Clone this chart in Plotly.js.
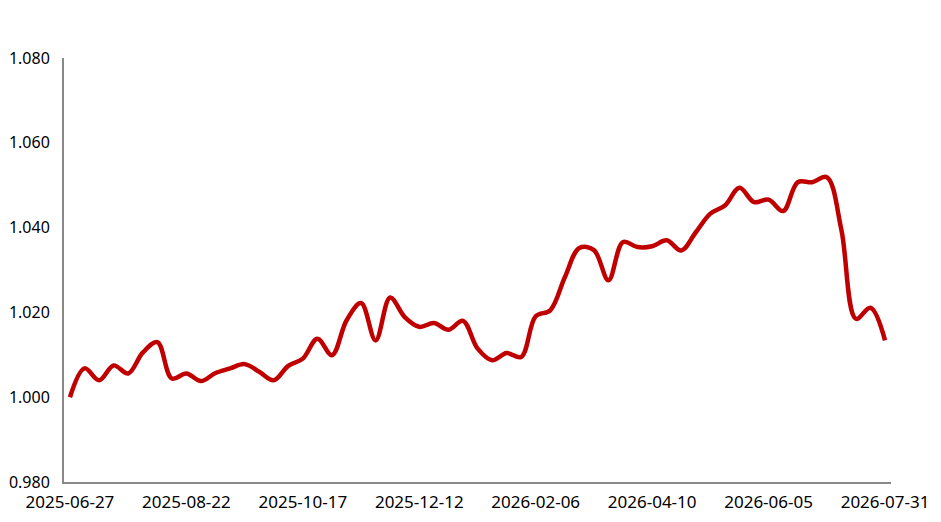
<!DOCTYPE html>
<html>
<head>
<meta charset="utf-8">
<script src="https://cdn.plot.ly/plotly-3.0.1.min.js"></script>
<style>
  html, body { margin: 0; padding: 0; background: #fff; }
  #chart { width: 941px; height: 522px; }
</style>
</head>
<body>
<div id="chart"></div>
<script>
// weekly dates (one trading week missing around the spring festival)
const dates = [
    '2025-06-27','2025-07-04','2025-07-11','2025-07-18','2025-07-25','2025-08-01','2025-08-08','2025-08-15',
    '2025-08-22','2025-08-29','2025-09-05','2025-09-12','2025-09-19','2025-09-26','2025-09-30','2025-10-10',
    '2025-10-17','2025-10-24','2025-10-31','2025-11-07','2025-11-14','2025-11-21','2025-11-28','2025-12-05',
    '2025-12-12','2025-12-19','2025-12-26','2026-01-02','2026-01-09','2026-01-16','2026-01-23','2026-01-30',
    '2026-02-06','2026-02-13','2026-02-27','2026-03-06','2026-03-13','2026-03-20','2026-03-27','2026-04-03',
    '2026-04-10','2026-04-17','2026-04-24','2026-04-30','2026-05-08','2026-05-15','2026-05-22','2026-05-29',
    '2026-06-05','2026-06-12','2026-06-18','2026-06-26','2026-07-03','2026-07-10','2026-07-17','2026-07-24',
    '2026-07-31'
];

const navValues = [
    1.0000, 1.0068, 1.0040, 1.0075, 1.0056, 1.0105, 1.0130, 1.0044,
    1.0056, 1.0038, 1.0057, 1.0068, 1.0078, 1.0060, 1.0040, 1.0074,
    1.0091, 1.0138, 1.0099, 1.0181, 1.0222, 1.0134, 1.0235, 1.0189,
    1.0166, 1.0175, 1.0159, 1.0180, 1.0115, 1.0087, 1.0104, 1.0095,
    1.0191, 1.0205, 1.0283, 1.0352, 1.0347, 1.0276, 1.0366, 1.0354,
    1.0356, 1.0370, 1.0346, 1.0389, 1.0433, 1.0452, 1.0494, 1.0460,
    1.0466, 1.0439, 1.0507, 1.0507, 1.0519, 1.0395, 1.0185, 1.0211,
    1.0134
];

const xTickLabels = ['2025-06-27','2025-08-22','2025-10-17','2025-12-12','2026-02-06','2026-04-10','2026-06-05','2026-07-31'];

const yTicks = [0.98, 1.00, 1.02, 1.04, 1.06, 1.08];

let navTrace = {
    type: 'scatter',
    mode: 'lines',
    x: dates,
    y: navValues,
    line: { color: '#C00000', width: 4.5, shape: 'spline', smoothing: 1 },
    hoverinfo: 'x+y',
    showlegend: false
};

const layout = {
    width: 941,
    height: 522,
    margin: { l: 64, r: 50, t: 58, b: 40 },
    paper_bgcolor: '#fff',
    plot_bgcolor: '#fff',
    font: { family: '"Noto Sans", "DejaVu Sans", sans-serif', size: 16, color: '#000' },
    xaxis: {
        type: 'category',
        range: [-0.41, dates.length - 1 + 0.41],
        tickmode: 'array',
        tickvals: xTickLabels,
        ticktext: xTickLabels,
        showgrid: false,
        zeroline: false,
        showline: true,
        linecolor: '#898989',
        linewidth: 2,
        ticks: '',
        ticklabelstandoff: 4,
        tickfont: { size: 17 }
    },
    yaxis: {
        range: [0.98, 1.08],
        tickmode: 'array',
        tickvals: yTicks,
        ticktext: yTicks.map(v => v.toFixed(3)),
        showgrid: false,
        zeroline: false,
        showline: true,
        linecolor: '#898989',
        linewidth: 2,
        ticks: '',
        ticklabelstandoff: 9,
        tickfont: { size: 16 }
    }
};

Plotly.newPlot('chart', [navTrace], layout, { displayModeBar: false, staticPlot: true });
</script>
</body>
</html>
